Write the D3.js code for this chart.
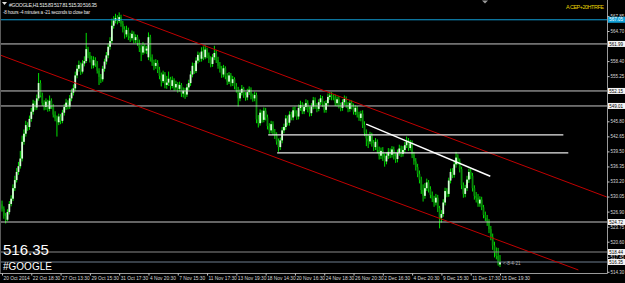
<!DOCTYPE html>
<html>
<head>
<meta charset="utf-8">
<script src="https://cdn.jsdelivr.net/npm/d3@7"></script>
<style>
  html, body { margin: 0; padding: 0; background: #000; }
  svg { display: block; }
  text { font-family: "Liberation Sans", Arial, sans-serif; }
</style>
</head>
<body>
<div class="container"></div>
<script>
// #GOOGLE H1 bars, 20 Oct 2014 -> 15 Dec 2014
const opens = [
  528.4,527.5,526.0,525.2,526.8,528.5,529.6,531.8,533.5,535.2,
  536.4,538.0,541.5,543.2,545.0,544.6,546.3,547.8,549.5,548.7,
  550.6,553.8,551.2,549.6,548.8,549.9,548.4,550.1,549.0,547.2,
  546.4,545.6,546.8,545.9,547.6,548.8,549.7,548.9,550.6,551.8,
  552.7,555.4,556.8,557.6,556.2,557.9,558.4,560.9,559.6,558.8,
  557.5,558.6,557.9,556.4,555.1,554.6,556.8,558.3,559.6,561.4,
  562.6,565.8,566.9,567.4,566.8,567.6,566.2,565.1,564.0,564.9,
  563.6,563.2,564.1,562.8,563.4,562.2,561.1,560.2,561.5,560.6,
  559.2,563.4,559.2,558.1,557.4,558.0,556.6,555.3,554.2,555.6,
  553.4,553.9,554.7,553.2,554.4,552.9,553.6,552.6,553.4,551.6,
  552.2,551.4,552.9,553.8,555.6,557.4,556.3,558.5,559.7,558.9,
  560.4,559.2,560.8,559.6,558.7,557.8,559.2,560.1,558.6,557.4,
  556.8,555.6,556.9,555.2,554.1,555.4,553.8,554.6,553.1,552.4,
  550.6,551.8,552.6,551.3,550.8,551.9,552.4,551.0,550.6,551.3,
  546.2,545.4,547.6,546.1,548.0,546.6,544.8,543.9,545.2,543.5,
  542.9,541.6,540.4,541.8,543.9,544.6,546.4,545.5,547.2,546.6,
  548.1,547.4,546.8,548.6,549.2,547.9,548.8,549.6,548.3,547.5,
  548.9,550.2,549.0,548.4,549.8,550.6,549.4,548.2,549.6,550.9,
  551.2,551.0,550.8,549.6,550.4,549.1,548.6,549.8,550.5,549.2,
  548.4,549.6,548.9,547.8,548.6,547.2,546.5,547.4,545.1,543.4,
  542.2,541.6,542.8,541.2,540.4,541.5,539.8,538.6,539.6,538.2,
  537.4,538.6,539.4,538.8,539.9,538.5,537.9,539.2,540.1,539.0,
  539.8,540.8,541.6,540.2,541.2,538.8,537.4,536.2,534.8,533.6,
  531.4,530.2,531.8,533.0,531.6,530.4,529.6,528.8,529.8,527.6,
  525.6,526.4,528.8,531.2,530.6,533.4,535.2,534.6,536.8,538.2,
  537.4,535.8,532.4,530.6,531.8,533.6,535.2,534.4,531.8,530.2,
  529.8,528.6,529.4,527.8,526.2,525.6,524.8,523.2,521.6,519.8,
  518.4,517.6,515.83
];
const highs = [
  529.2,528.0,526.6,527.4,529.1,530.3,532.6,534.4,536.0,537.3,
  539.6,542.8,544.1,545.9,545.6,547.0,548.6,550.3,550.1,551.4,
  555.9,554.4,551.8,550.2,550.6,550.3,551.2,550.6,549.4,547.9,
  547.0,547.4,547.3,548.2,549.4,550.5,550.2,551.3,552.6,553.5,
  556.2,557.6,558.5,558.1,558.6,559.4,564.3,561.4,560.3,559.5,
  559.4,559.2,558.4,556.9,555.7,557.4,558.9,560.3,562.1,563.4,
  567.3,567.8,568.3,568.0,568.6,568.1,566.8,565.7,565.8,565.4,
  564.3,564.8,564.6,564.0,563.9,562.9,561.8,562.4,562.0,561.6,
  564.4,563.9,559.8,558.7,558.8,558.6,557.2,556.0,556.4,556.1,
  555.3,556.2,555.1,555.2,554.8,554.3,554.0,554.1,553.8,552.9,
  552.8,553.6,554.5,556.3,558.1,558.0,559.2,560.4,560.2,561.3,
  561.5,561.7,561.2,560.2,559.4,559.9,561.6,560.7,559.3,558.2,
  557.4,557.6,557.3,555.9,556.1,555.9,555.3,555.0,553.8,553.0,
  552.5,553.4,553.0,551.9,552.6,553.1,552.9,551.6,552.0,551.8,
  547.1,548.3,548.1,548.7,548.6,547.2,545.4,545.9,545.8,544.2,
  543.5,542.2,542.4,544.6,545.3,547.1,547.0,547.9,547.8,548.8,
  548.9,548.1,549.3,550.1,549.8,549.5,550.4,550.2,548.9,549.6,
  550.9,550.8,549.6,550.4,551.3,551.1,550.0,550.2,551.6,551.8,
  551.9,551.5,551.4,551.0,551.1,549.7,550.4,551.2,551.0,549.8,
  550.3,550.2,549.5,549.2,549.0,547.8,548.0,548.1,545.8,544.1,
  543.0,543.6,543.4,541.9,542.3,542.0,540.5,540.3,540.4,539.0,
  539.3,540.2,540.1,540.6,540.5,539.1,539.9,540.9,540.7,540.6,
  541.5,542.6,542.3,541.9,541.8,539.4,538.1,536.9,535.5,534.2,
  532.6,532.9,533.8,533.5,532.2,531.1,530.2,530.6,530.4,528.1,
  527.2,529.5,531.9,531.8,534.0,535.9,536.0,537.5,539.4,538.9,
  538.0,536.3,533.0,532.5,534.4,535.9,535.8,535.0,532.4,531.0,
  530.6,530.1,530.0,528.3,526.9,526.2,525.3,523.9,522.3,520.6,
  519.4,519.3,517.81
];
const lows = [
  526.9,525.4,524.4,524.9,526.3,528.0,529.1,531.2,533.0,534.6,
  535.9,537.4,540.9,542.6,543.8,544.0,545.7,547.2,548.1,548.2,
  550.1,550.8,549.0,548.1,548.2,547.8,547.9,548.4,546.6,545.8,
  542.6,545.0,545.2,545.4,547.0,548.2,548.3,548.4,550.0,551.2,
  552.1,554.8,556.2,555.5,555.8,557.3,558.0,559.0,558.1,556.8,
  556.9,557.2,555.8,553.4,553.8,554.1,556.2,557.7,559.0,560.8,
  562.1,565.2,566.3,566.1,566.4,565.6,564.4,563.1,563.4,562.8,
  562.4,562.7,562.1,562.2,561.6,560.3,558.4,559.7,560.0,559.9,
  558.6,558.3,557.4,556.5,556.8,555.9,554.6,553.1,553.8,552.7,
  552.6,553.2,552.4,552.7,552.2,552.3,551.8,552.0,550.9,550.8,
  550.5,550.9,552.3,553.2,555.0,555.7,555.9,557.9,558.2,558.3,
  558.6,558.8,559.0,558.0,557.1,557.2,558.6,558.0,556.8,556.0,
  554.9,555.0,554.6,553.4,553.6,553.1,553.2,552.5,551.8,548.9,
  550.0,551.2,550.7,550.1,550.2,551.3,550.4,549.9,550.0,545.4,
  544.5,544.9,545.5,545.6,546.0,544.1,543.2,543.3,542.9,542.1,
  540.9,539.4,539.8,541.2,543.3,544.0,544.9,544.9,546.0,546.0,
  546.8,546.1,546.2,548.0,547.3,547.3,548.2,547.7,546.8,546.9,
  548.3,548.4,547.7,547.9,549.2,548.8,547.6,547.6,549.0,550.3,
  550.2,550.2,549.0,548.9,548.5,547.9,548.0,549.2,548.6,547.7,
  547.8,548.3,547.2,547.1,546.6,545.9,545.8,544.4,542.7,540.6,
  540.2,541.0,540.5,539.6,539.8,539.1,537.8,537.9,537.5,536.3,
  536.8,537.9,538.1,538.2,537.8,537.1,537.2,538.6,538.3,538.4,
  539.2,540.2,539.6,539.7,538.1,536.7,535.5,534.1,532.8,530.6,
  529.0,529.6,531.2,530.9,529.7,528.9,527.9,528.2,526.8,523.4,
  524.6,525.8,528.2,529.9,530.0,532.8,533.9,534.0,536.1,536.7,
  535.1,531.6,529.8,529.9,531.2,532.9,533.7,531.1,529.4,528.8,
  527.9,527.9,527.2,525.5,524.9,523.9,522.4,520.9,518.9,517.3,
  516.9,515.6,515.30
];
const closes = [
  527.5,526.0,525.2,526.8,528.5,529.6,531.8,533.5,535.2,536.4,
  538.0,541.5,543.2,545.0,544.6,546.3,547.8,549.5,548.7,550.6,
  553.8,551.2,549.6,548.8,549.9,548.4,550.1,549.0,547.2,546.4,
  545.6,546.8,545.9,547.6,548.8,549.7,548.9,550.6,551.8,552.7,
  555.4,556.8,557.6,556.2,557.9,558.4,560.9,559.6,558.8,557.5,
  558.6,557.9,556.4,555.1,554.6,556.8,558.3,559.6,561.4,562.6,
  565.8,566.9,567.4,566.8,567.6,566.2,565.1,564.0,564.9,563.6,
  563.2,564.1,562.8,563.4,562.2,561.1,560.2,561.5,560.6,561.0,
  563.4,559.2,558.1,557.4,558.0,556.6,555.3,554.2,555.6,553.4,
  553.9,554.7,553.2,554.4,552.9,553.6,552.6,553.4,551.6,552.2,
  551.4,552.9,553.8,555.6,557.4,556.3,558.5,559.7,558.9,560.4,
  559.2,560.8,559.6,558.7,557.8,559.2,560.1,558.6,557.4,556.8,
  555.6,556.9,555.2,554.1,555.4,553.8,554.6,553.1,552.4,550.6,
  551.8,552.6,551.3,550.8,551.9,552.4,551.0,550.6,551.3,546.2,
  545.4,547.6,546.1,548.0,546.6,544.8,543.9,545.2,543.5,542.9,
  541.6,540.4,541.8,543.9,544.6,546.4,545.5,547.2,546.6,548.1,
  547.4,546.8,548.6,549.2,547.9,548.8,549.6,548.3,547.5,548.9,
  550.2,549.0,548.4,549.8,550.6,549.4,548.2,549.6,550.9,551.2,
  551.0,550.8,549.6,550.4,549.1,548.6,549.8,550.5,549.2,548.4,
  549.6,548.9,547.8,548.6,547.2,546.5,547.4,545.1,543.4,542.2,
  541.6,542.8,541.2,540.4,541.5,539.8,538.6,539.6,538.2,537.4,
  538.6,539.4,538.8,539.9,538.5,537.9,539.2,540.1,539.0,539.8,
  540.8,541.6,540.2,541.2,538.8,537.4,536.2,534.8,533.6,531.4,
  530.2,531.8,533.0,531.6,530.4,529.6,528.8,529.8,527.6,525.6,
  526.4,528.8,531.2,530.6,533.4,535.2,534.6,536.8,538.2,537.4,
  535.8,532.4,530.6,531.8,533.6,535.2,534.4,531.8,530.2,529.8,
  528.6,529.4,527.8,526.2,525.6,524.8,523.2,521.6,519.8,518.4,
  517.6,516.0,516.35
];

// time axis: one label every 16 bars
const timeTickBars = [0,16,32,48,64,80,96,112,128,144,160,176,192,208,224,240,256,272];
const timeLabels = ["20 Oct 2014","22 Oct 18:30","27 Oct 13:30","29 Oct 15:30","31 Oct 17:30",
  "4 Nov 20:30","7 Nov 15:30","11 Nov 17:30","13 Nov 19:30","18 Nov 14:30","20 Nov 16:30",
  "24 Nov 18:30","26 Nov 20:30","2 Dec 16:30","4 Dec 20:30","9 Dec 15:30","11 Dec 17:30","15 Dec 19:30"];

// price axis ticks
const priceTicks = [514.30,517.45,520.60,523.75,526.90,530.05,533.20,536.35,539.50,542.65,
  545.80,548.95,552.10,555.25,558.40,561.55,564.70,567.85];

// horizontal levels
const blueLevel = 567.05;
const whiteLevels = [561.99, 552.15, 549.01, 524.72];
const greyLevel = 518.44;
const bidPrice = 516.35;

// drawn objects, [bar, price]
const channelTop = [[66.1, 568.05], [330.3, 529.96]];
const channelBottom = [[-1.1, 559.68], [314.8, 514.68]];
const trendWhite = [[198.9, 545.2], [266.7, 534.3]];
const hSegments = [[[145.4, 542.94], [306.6, 542.94]], [[150.3, 539.17], [309.3, 539.17]]];

const width = 625, height = 283;
const plotW = 607, plotH = 273;

const svg = d3.select('.container').append('svg')
  .attr('width', width).attr('height', height);
svg.append('rect').attr('width', width).attr('height', height).attr('fill', '#000');

const x = d3.scaleLinear().domain([0, 272]).range([2, 500]);
const y = d3.scaleLinear().domain([516.35, 564.70]).range([262, 31]);

svg.append('clipPath').attr('id', 'plot')
  .append('rect').attr('x', 0).attr('y', 0).attr('width', plotW).attr('height', plotH);
const plot = svg.append('g').attr('clip-path', 'url(#plot)');

// candles
const bars = d3.range(closes.length);
plot.append('g').selectAll('line')
  .data(bars).enter().append('line')
  .attr('x1', i => x(i)).attr('x2', i => x(i))
  .attr('y1', i => y(highs[i])).attr('y2', i => y(lows[i]))
  .attr('stroke', '#00e000').attr('stroke-width', 1);
plot.append('g').selectAll('rect')
  .data(bars).enter().append('rect')
  .attr('x', i => x(i) - 0.9)
  .attr('width', 1.8)
  .attr('y', i => y(Math.max(opens[i], closes[i])))
  .attr('height', i => Math.max(0.8, Math.abs(y(opens[i]) - y(closes[i]))))
  .attr('fill', i => closes[i] >= opens[i] ? '#d4ffd4' : '#0a8a0a');

// horizontal levels
const hline = (p, color) => plot.append('line')
  .attr('x1', 0).attr('x2', plotW).attr('y1', y(p)).attr('y2', y(p))
  .attr('stroke', color).attr('stroke-width', 1);
hline(blueLevel, '#119fd6');
whiteLevels.forEach(p => hline(p, '#c8c8c8'));
hline(greyLevel, '#8a8a8a');
hline(bidPrice, '#6f7f8f');

// channel and trend lines
const seg = (pts, color, w) => plot.append('line')
  .attr('x1', x(pts[0][0])).attr('y1', y(pts[0][1]))
  .attr('x2', x(pts[1][0])).attr('y2', y(pts[1][1]))
  .attr('stroke', color).attr('stroke-width', w);
seg(channelTop, '#c00000', 1);
seg(channelBottom, '#c00000', 1);
hSegments.forEach(s => seg(s, '#e8e8e8', 1.2));
seg(trendWhite, '#ffffff', 1.4);

// frame
svg.append('line').attr('x1', plotW + 0.5).attr('x2', plotW + 0.5).attr('y1', 0).attr('y2', plotH + 0.5)
  .attr('stroke', '#9a9a9a');
svg.append('line').attr('x1', 0).attr('x2', plotW + 0.5).attr('y1', plotH + 0.5).attr('y2', plotH + 0.5)
  .attr('stroke', '#9a9a9a');
svg.append('line').attr('x1', 0.5).attr('x2', 0.5).attr('y1', 0).attr('y2', plotH)
  .attr('stroke', '#5a5a5a');

// price axis
const boxes = [blueLevel, ...whiteLevels, greyLevel, bidPrice];
const shownTicks = priceTicks.filter(t => boxes.every(b => Math.abs(y(t) - y(b)) > 3));
const yAxis = d3.axisRight(y).tickValues(shownTicks).tickSize(2).tickFormat(d3.format('.2f'));
const ya = svg.append('g').attr('transform', `translate(${plotW + 0.5},0)`).call(yAxis);
ya.select('.domain').remove();
ya.selectAll('line').attr('stroke', '#c8c8c8');
ya.selectAll('text').attr('x', 3).attr('fill', '#d8d8d8')
  .style('font-size', '4.5px').style('font-family', '"Liberation Sans", Arial, sans-serif');

const box = (p, fill, txt) => {
  svg.append('rect').attr('x', plotW + 1).attr('y', y(p) - 3)
    .attr('width', 17).attr('height', 6).attr('fill', fill);
  svg.append('text').attr('x', plotW + 2.3).attr('y', y(p) + 1.6)
    .attr('fill', txt).style('font-size', '4.5px').text(p.toFixed(2));
};
box(blueLevel, '#119fd6', '#ffffff');
whiteLevels.forEach(p => box(p, '#f4f4f4', '#000'));
box(greyLevel, '#f4f4f4', '#000');
box(bidPrice, '#f4f4f4', '#000');

// time axis
const xAxis = d3.axisBottom(x).tickValues(timeTickBars).tickSize(2)
  .tickFormat((d, i) => timeLabels[i]);
const xa = svg.append('g').attr('transform', `translate(0,${plotH + 0.5})`).call(xAxis);
xa.select('.domain').remove();
xa.selectAll('line').attr('stroke', '#c8c8c8');
xa.selectAll('text').attr('text-anchor', 'start').attr('x', 1).attr('y', 3).attr('dy', '0.71em')
  .attr('fill', '#d8d8d8')
  .style('font-size', '4.8px').style('font-family', '"Liberation Sans", Arial, sans-serif');

// header texts
svg.append('path').attr('d', 'M2,2 L7,2 L4.5,5 Z').attr('fill', '#e0e0e0');
svg.append('text').attr('x', 9).attr('y', 7).attr('fill', '#e8e8e8')
  .attr('textLength', 88).style('font-size', '5.2px')
  .text('#GOOGLE,H1  515.83 517.81 515.30 516.35');
svg.append('text').attr('x', 3).attr('y', 13.5).attr('fill', '#e8e8e8')
  .attr('textLength', 87).style('font-size', '4.6px')
  .text('-8 hours -4 minutes a -21 seconds to close bar');
svg.append('text').attr('x', 566).attr('y', 9).attr('fill', '#e4d400')
  .attr('textLength', 38).style('font-size', '5.5px')
  .text('A CEP+20HTRFE');
svg.append('path').attr('d', 'M482,0.5 L488,0.5 L485,3.5 Z').attr('fill', '#9a9a9a');

// countdown near last bar
svg.append('text').attr('x', x(272) + 3).attr('y', 264.5).attr('fill', '#b8b8b8')
  .style('font-size', '4.6px').text('<-8-4-21');

// big price / symbol
svg.append('text').attr('x', 3).attr('y', 254.5).attr('fill', '#ffffff')
  .style('font-size', '15px').text('516.35');
svg.append('text').attr('x', 3).attr('y', 269.5).attr('fill', '#ffffff')
  .style('font-size', '10px').text('#GOOGLE');
</script>
</body>
</html>
